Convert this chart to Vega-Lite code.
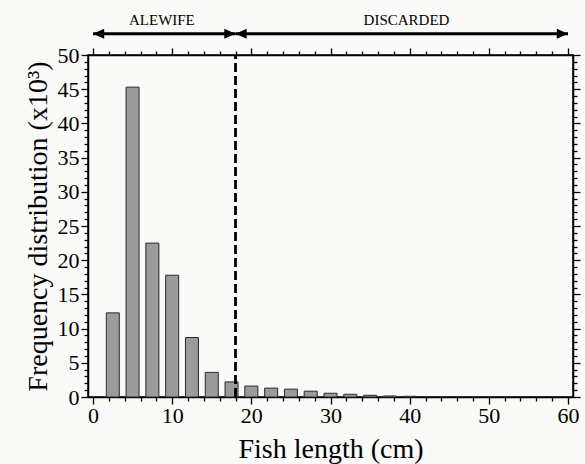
{
  "$schema": "https://vega.github.io/schema/vega-lite/v6.json",
  "autosize": "none",
  "width": 485,
  "height": 342,
  "padding": {"left": 88, "top": 55, "right": 12, "bottom": 67},
  "background": "#fafaf8",
  "config": {
    "font": "Liberation Serif",
    "view": {"stroke": "black", "strokeWidth": 1.5},
    "axis": {"domainColor": "black", "domainWidth": 1.5, "tickColor": "black", "tickWidth": 1.3, "grid": false, "labelColor": "black", "titleColor": "black", "labelFont": "Liberation Serif", "titleFont": "Liberation Serif", "titleFontWeight": "normal"}
  },
  "datasets": {
    "bars": [
      {"length": 2.5, "freq": 12.3},
      {"length": 5, "freq": 45.3},
      {"length": 7.5, "freq": 22.5},
      {"length": 10, "freq": 17.8},
      {"length": 12.5, "freq": 8.7},
      {"length": 15, "freq": 3.6},
      {"length": 17.5, "freq": 2.2},
      {"length": 20, "freq": 1.6},
      {"length": 22.5, "freq": 1.3},
      {"length": 25, "freq": 1.15},
      {"length": 27.5, "freq": 0.85},
      {"length": 30, "freq": 0.55},
      {"length": 32.5, "freq": 0.4},
      {"length": 35, "freq": 0.25},
      {"length": 37.5, "freq": 0.15},
      {"length": 40, "freq": 0.1}
    ],
    "cut": [{"x": 18, "y0": 0, "y1": 50}],
    "arrows": [
      {"xs": 0, "xe": 18, "y": 53.1},
      {"xs": 18, "xe": 60, "y": 53.1}
    ],
    "heads": [
      {"x": 0, "y": 53.1, "dir": "L"},
      {"x": 18, "y": 53.1, "dir": "R"},
      {"x": 18, "y": 53.1, "dir": "L"},
      {"x": 60, "y": 53.1, "dir": "R"}
    ],
    "labels": [
      {"x": 8.7, "y": 55.1, "label": "ALEWIFE"},
      {"x": 39.6, "y": 55.1, "label": "DISCARDED"}
    ]
  },
  "layer": [
    {
      "data": {"name": "bars"},
      "mark": {"type": "bar", "width": 13, "fill": "#9b9b9b", "stroke": "#2a2a2a", "strokeWidth": 1},
      "encoding": {
        "x": {"field": "length", "type": "quantitative", "scale": {"domain": [0, 60], "nice": false, "zero": false},
          "axis": {"orient": "bottom", "values": [0, 10, 20, 30, 40, 50, 60], "tickSize": 7, "labelFontSize": 22, "labelPadding": 1, "title": "Fish length (cm)", "titleFontSize": 28, "titlePadding": 9}},
        "y": {"field": "freq", "type": "quantitative", "scale": {"domain": [0, 50], "nice": false},
          "axis": {"orient": "left", "values": [0, 5, 10, 15, 20, 25, 30, 35, 40, 45, 50], "tickSize": 7, "labelFontSize": 22, "labelPadding": 2, "title": "Frequency distribution (x10³)", "titleFontSize": 28, "titlePadding": 5}}
      }
    },
    {
      "data": {"name": "cut"},
      "mark": {"type": "rule", "strokeDash": [9, 4], "strokeWidth": 2.8, "color": "black"},
      "encoding": {
        "x": {"field": "x", "type": "quantitative", "scale": {"domain": [0, 60], "nice": false, "zero": false},
          "axis": {"orient": "top", "values": [0, 10, 20, 30, 40, 50, 60], "tickSize": 7, "labels": false, "title": null}},
        "y": {"field": "y0", "type": "quantitative", "scale": {"domain": [0, 50], "nice": false},
          "axis": {"orient": "right", "values": [0, 5, 10, 15, 20, 25, 30, 35, 40, 45, 50], "tickSize": 7, "labels": false, "title": null}},
        "y2": {"field": "y1"}
      }
    },
    {
      "data": {"name": "arrows"},
      "mark": {"type": "rule", "strokeWidth": 3, "color": "black", "clip": false},
      "encoding": {
        "x": {"field": "xs", "type": "quantitative", "scale": {"domain": [0, 60], "nice": false, "zero": false},
          "axis": {"orient": "bottom", "values": [2, 4, 6, 8, 12, 14, 16, 18, 22, 24, 26, 28, 32, 34, 36, 38, 42, 44, 46, 48, 52, 54, 56, 58], "tickSize": 4, "labels": false, "domain": false, "title": null}},
        "x2": {"field": "xe"},
        "y": {"field": "y", "type": "quantitative", "scale": {"domain": [0, 50], "nice": false},
          "axis": {"orient": "left", "values": [1, 2, 3, 4, 6, 7, 8, 9, 11, 12, 13, 14, 16, 17, 18, 19, 21, 22, 23, 24, 26, 27, 28, 29, 31, 32, 33, 34, 36, 37, 38, 39, 41, 42, 43, 44, 46, 47, 48, 49], "tickSize": 4, "labels": false, "domain": false, "title": null}}
      }
    },
    {
      "data": {"name": "heads"},
      "mark": {"type": "point", "filled": true, "color": "black", "opacity": 1, "clip": false},
      "encoding": {
        "x": {"field": "x", "type": "quantitative", "scale": {"domain": [0, 60], "nice": false, "zero": false},
          "axis": {"orient": "top", "values": [2, 4, 6, 8, 12, 14, 16, 18, 22, 24, 26, 28, 32, 34, 36, 38, 42, 44, 46, 48, 52, 54, 56, 58], "tickSize": 4, "labels": false, "domain": false, "title": null}},
        "y": {"field": "y", "type": "quantitative", "scale": {"domain": [0, 50], "nice": false},
          "axis": {"orient": "right", "values": [1, 2, 3, 4, 6, 7, 8, 9, 11, 12, 13, 14, 16, 17, 18, 19, 21, 22, 23, 24, 26, 27, 28, 29, 31, 32, 33, 34, 36, 37, 38, 39, 41, 42, 43, 44, 46, 47, 48, 49], "tickSize": 4, "labels": false, "domain": false, "title": null}},
        "shape": {"field": "dir", "type": "nominal", "scale": {"domain": ["L", "R"], "range": ["M0,0L1,-0.45L1,0.45Z", "M0,0L-1,-0.45L-1,0.45Z"]}, "legend": null},
        "size": {"value": 500}
      }
    },
    {
      "data": {"name": "labels"},
      "mark": {"type": "text", "fontSize": 15, "color": "black", "clip": false, "font": "Liberation Serif"},
      "encoding": {
        "x": {"field": "x", "type": "quantitative", "scale": {"domain": [0, 60], "nice": false, "zero": false}, "axis": null},
        "y": {"field": "y", "type": "quantitative", "scale": {"domain": [0, 50], "nice": false}, "axis": null},
        "text": {"field": "label"}
      }
    }
  ],
  "resolve": {"axis": {"x": "independent", "y": "independent"}}
}
